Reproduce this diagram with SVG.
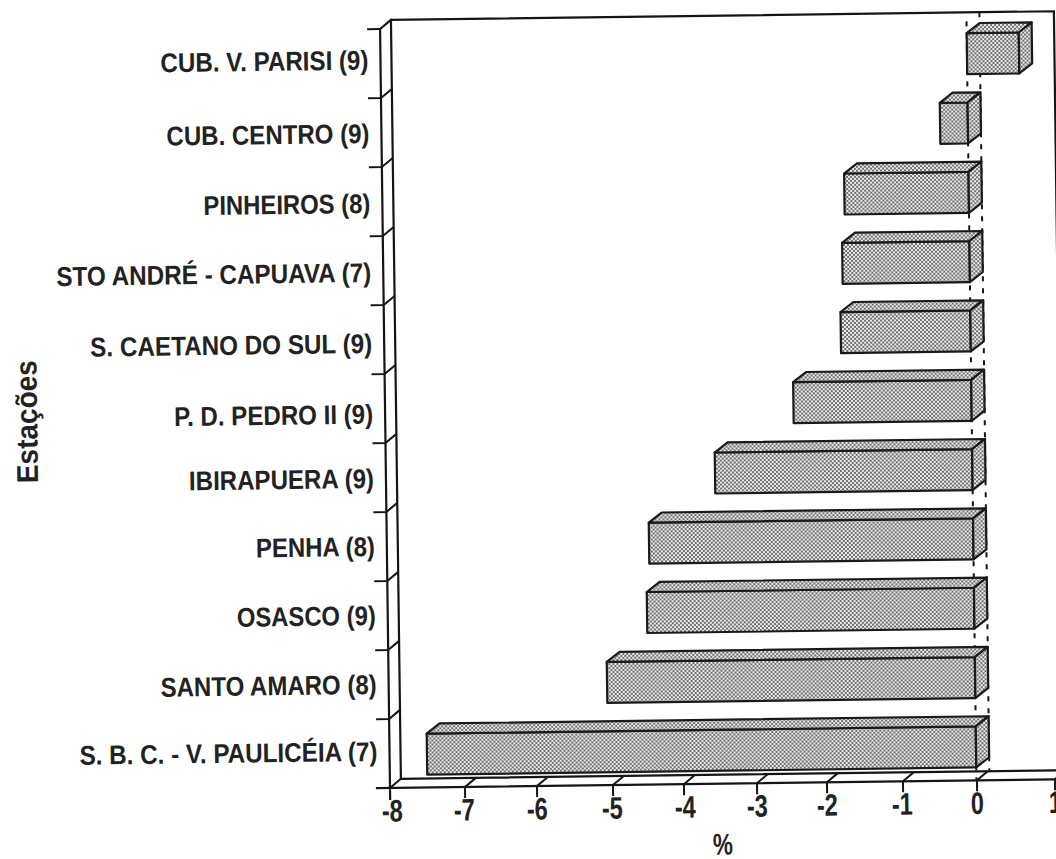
<svg xmlns="http://www.w3.org/2000/svg" width="1056" height="859" viewBox="0 0 1056 859">
<style>
.ax{stroke:#151515;stroke-width:2.2;fill:none;stroke-linecap:square}
.tk{stroke:#151515;stroke-width:2;fill:none}
.zero{stroke:#151515;stroke-width:2;stroke-dasharray:5 7;fill:none}
.bar{fill:url(#dots);stroke:#1a1a1a;stroke-width:2.2;stroke-linejoin:round}
.lbl{font-family:"Liberation Sans",Arial,sans-serif;font-weight:bold;font-size:27px;fill:#222;text-anchor:end}
.num{font-family:"Liberation Sans",Arial,sans-serif;font-weight:bold;font-size:31px;fill:#222;text-anchor:middle}
.ttl{font-family:"Liberation Sans",Arial,sans-serif;font-weight:bold;font-size:30px;fill:#222;text-anchor:middle}
</style>
<defs>
<pattern id="dots" width="4" height="4" patternUnits="userSpaceOnUse">
<rect width="4" height="4" fill="#ececec"/>
<circle cx="1" cy="1" r="0.95" fill="#3a3a3a"/>
<circle cx="3" cy="3" r="0.95" fill="#3a3a3a"/>
</pattern>
</defs>
<rect width="1056" height="859" fill="#ffffff"/>
<g transform="rotate(-0.75 390 788)">
<g id="axes">
<path class="ax" d="M401,20 V779 M401,20 H1064 V779 M401,779 H1075 M390,29 V799 M377,788 H1075 M390,29 L401,20"/>
<path class="zero" d="M976.5,29 V788 M989.5,20 V779"/>
<path class="tk" d="M377,29 H390 M377,98 H390 L401,89 M377,167 H390 L401,158 M377,236 H390 L401,227 M377,305 H390 L401,296 M377,374 H390 L401,365 M377,443 H390 L401,434 M377,512 H390 L401,503 M377,581 H390 L401,572 M377,650 H390 L401,641 M377,719 H390 L401,710"/>
<path class="tk" d="M390,788 L401,779 M465,799 V788 L476,779 M537,799 V788 L548,779 M613,799 V788 L624,779 M684,799 V788 L695,779 M757,799 V788 L768,779 M827,799 V788 L838,779 M903,799 V788 L914,779 M977,799 V788 L988,779 M1055,799 V788 L1066,779"/>
</g>
<g id="xlabels">
<text class="num" x="392" y="821.5" textLength="21" lengthAdjust="spacingAndGlyphs">-8</text>
<text class="num" x="464" y="821.5" textLength="21" lengthAdjust="spacingAndGlyphs">-7</text>
<text class="num" x="537" y="821.5" textLength="21" lengthAdjust="spacingAndGlyphs">-6</text>
<text class="num" x="612" y="821.5" textLength="21" lengthAdjust="spacingAndGlyphs">-5</text>
<text class="num" x="685" y="821.5" textLength="21" lengthAdjust="spacingAndGlyphs">-4</text>
<text class="num" x="757" y="821.5" textLength="21" lengthAdjust="spacingAndGlyphs">-3</text>
<text class="num" x="827" y="821.5" textLength="21" lengthAdjust="spacingAndGlyphs">-2</text>
<text class="num" x="902" y="821.5" textLength="21" lengthAdjust="spacingAndGlyphs">-1</text>
<text class="num" x="977" y="821.5" textLength="13" lengthAdjust="spacingAndGlyphs">0</text>
<text class="num" x="1055" y="821.5" textLength="13" lengthAdjust="spacingAndGlyphs">1</text>
<text class="ttl" x="722" y="859" textLength="20" lengthAdjust="spacingAndGlyphs">%</text>
<text class="ttl" transform="translate(42,417) rotate(-90)" x="0" y="0" textLength="123" lengthAdjust="spacingAndGlyphs">Estações</text>
</g>
<g id="bar-cub-v-parisi">
<rect class="bar" x="976.5" y="40.8" width="52.1" height="41"/>
<polygon class="bar" points="976.5,40.8 1028.6,40.8 1041.6,30.8 989.5,30.8"/>
<polygon class="bar" points="1028.6,40.8 1041.6,30.8 1041.6,71.8 1028.6,81.8"/>
<text class="lbl" x="378" y="69.3" textLength="208" lengthAdjust="spacingAndGlyphs">CUB. V. PARISI (9)</text>
</g>
<g id="bar-cub-centro">
<rect class="bar" x="948.7" y="110.1" width="27.8" height="41"/>
<polygon class="bar" points="948.7,110.1 976.5,110.1 989.5,100.1 961.7,100.1"/>
<polygon class="bar" points="976.5,110.1 989.5,100.1 989.5,141.1 976.5,151.1"/>
<text class="lbl" x="378" y="142.7" textLength="203" lengthAdjust="spacingAndGlyphs">CUB. CENTRO (9)</text>
</g>
<g id="bar-pinheiros">
<rect class="bar" x="852.1" y="179.5" width="124.4" height="41"/>
<polygon class="bar" points="852.1,179.5 976.5,179.5 989.5,169.5 865.1,169.5"/>
<polygon class="bar" points="976.5,179.5 989.5,169.5 989.5,210.5 976.5,220.5"/>
<text class="lbl" x="378" y="212.7" textLength="167" lengthAdjust="spacingAndGlyphs">PINHEIROS (8)</text>
</g>
<g id="bar-sto-andre">
<rect class="bar" x="849.2" y="248.8" width="127.3" height="41"/>
<polygon class="bar" points="849.2,248.8 976.5,248.8 989.5,238.8 862.2,238.8"/>
<polygon class="bar" points="976.5,248.8 989.5,238.8 989.5,279.8 976.5,289.8"/>
<text class="lbl" x="378" y="281.7" textLength="315" lengthAdjust="spacingAndGlyphs">STO ANDRÉ - CAPUAVA (7)</text>
</g>
<g id="bar-s-caetano">
<rect class="bar" x="846.7" y="318.1" width="129.8" height="41"/>
<polygon class="bar" points="846.7,318.1 976.5,318.1 989.5,308.1 859.7,308.1"/>
<polygon class="bar" points="976.5,318.1 989.5,308.1 989.5,349.1 976.5,359.1"/>
<text class="lbl" x="378" y="352.7" textLength="282" lengthAdjust="spacingAndGlyphs">S. CAETANO DO SUL (9)</text>
</g>
<g id="bar-pd-pedro">
<rect class="bar" x="798.4" y="387.5" width="178.1" height="41"/>
<polygon class="bar" points="798.4,387.5 976.5,387.5 989.5,377.5 811.4,377.5"/>
<polygon class="bar" points="976.5,387.5 989.5,377.5 989.5,418.5 976.5,428.5"/>
<text class="lbl" x="378" y="423.3" textLength="199" lengthAdjust="spacingAndGlyphs">P. D. PEDRO II (9)</text>
</g>
<g id="bar-ibirapuera">
<rect class="bar" x="719.1" y="456.8" width="257.4" height="41"/>
<polygon class="bar" points="719.1,456.8 976.5,456.8 989.5,446.8 732.1,446.8"/>
<polygon class="bar" points="976.5,456.8 989.5,446.8 989.5,487.8 976.5,497.8"/>
<text class="lbl" x="378" y="487.7" textLength="185" lengthAdjust="spacingAndGlyphs">IBIRAPUERA (9)</text>
</g>
<g id="bar-penha">
<rect class="bar" x="652.2" y="526.1" width="324.3" height="41"/>
<polygon class="bar" points="652.2,526.1 976.5,526.1 989.5,516.1 665.2,516.1"/>
<polygon class="bar" points="976.5,526.1 989.5,516.1 989.5,557.1 976.5,567.1"/>
<text class="lbl" x="378" y="555.7" textLength="119" lengthAdjust="spacingAndGlyphs">PENHA (8)</text>
</g>
<g id="bar-osasco">
<rect class="bar" x="649.3" y="595.4" width="327.2" height="41"/>
<polygon class="bar" points="649.3,595.4 976.5,595.4 989.5,585.4 662.3,585.4"/>
<polygon class="bar" points="976.5,595.4 989.5,585.4 989.5,626.4 976.5,636.4"/>
<text class="lbl" x="378" y="624.7" textLength="139" lengthAdjust="spacingAndGlyphs">OSASCO (9)</text>
</g>
<g id="bar-santo-amaro">
<rect class="bar" x="608.4" y="664.8" width="368.1" height="41"/>
<polygon class="bar" points="608.4,664.8 976.5,664.8 989.5,654.8 621.4,654.8"/>
<polygon class="bar" points="976.5,664.8 989.5,654.8 989.5,695.8 976.5,705.8"/>
<text class="lbl" x="378" y="693.7" textLength="216" lengthAdjust="spacingAndGlyphs">SANTO AMARO (8)</text>
</g>
<g id="bar-sbc">
<rect class="bar" x="427.4" y="734.1" width="549.1" height="41"/>
<polygon class="bar" points="427.4,734.1 976.5,734.1 989.5,724.1 440.4,724.1"/>
<polygon class="bar" points="976.5,734.1 989.5,724.1 989.5,765.1 976.5,775.1"/>
<text class="lbl" x="378" y="760.7" textLength="298" lengthAdjust="spacingAndGlyphs">S. B. C. - V. PAULICÉIA (7)</text>
</g>
</g>
</svg>
